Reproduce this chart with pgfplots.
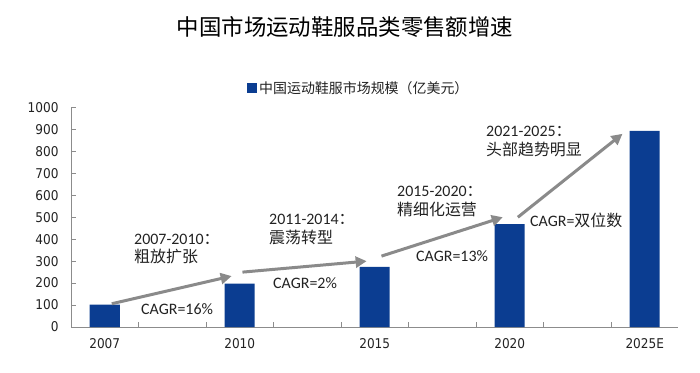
\documentclass[border=0pt]{standalone}
\usepackage{pgfplots}
\pgfplotsset{compat=1.18}
\usetikzlibrary{arrows.meta}
\usepackage{fontspec}
\setmainfont{Carlito}
\newfontfamily\cjk{Noto Sans CJK SC}
\newfontfamily\tickfont{DejaVu Sans Condensed}
\definecolor{barblue}{HTML}{0B3D91}
\definecolor{arrowgray}{HTML}{8A8A8A}
\definecolor{axgray}{HTML}{8C8C8C}
\definecolor{txt}{HTML}{222222}
\begin{document}
\begin{tikzpicture}
\useasboundingbox (0,0) rectangle (700bp,373bp);
\begin{axis}[
  at={(71bp,46bp)}, anchor=south west,
  scale only axis, width=607.5bp, height=219.5bp,
  xmin=-0.5, xmax=8.5, ymin=0, ymax=1000,
  axis lines=left,
  axis line style={-, axgray, line width=0.8bp},
  xtick={0,2,4,6,8},
  xticklabels={2007,2010,2015,2020,2025E},
  minor xtick={0.5,1.5,...,7.5},
  ytick={0,100,...,1000},
  tick align=inside,
  major tick length=5bp, minor tick length=5bp,
  tick style={axgray, line width=0.8bp},
  major x tick style={draw=none},
  ticklabel style={font=\tickfont\fontsize{13.5}{15}\selectfont, text=txt},
  /pgf/number format/assume math mode=true,
  /pgf/number format/1000 sep={},
  yticklabel shift=9bp,
  xticklabel shift=8bp,
  legend style={draw=none, fill=none, at={(0.2897,1.087)}, anchor=west,
    inner sep=0pt, font=\cjk\fontsize{14}{16}\selectfont, text=txt},
  legend image code/.code={\fill[barblue] (0bp,-5bp) rectangle (10bp,5bp);},
  clip=false,
]
\addplot[ybar, bar width=30bp, fill=barblue, draw=none]
  coordinates {(0,102) (2,198) (4,274) (6,469) (8,893)};
\addlegendentry{中国运动鞋服市场规模（亿美元）}
\addplot[arrowgray, line width=3bp, -{Triangle[length=11bp,width=11bp]}, forget plot]
  coordinates {(0.104,106) (1.88,232)};
\addplot[arrowgray, line width=3bp, -{Triangle[length=11bp,width=11bp]}, forget plot]
  coordinates {(2.04,250) (3.88,300)};
\addplot[arrowgray, line width=3bp, -{Triangle[length=11bp,width=11bp]}, forget plot]
  coordinates {(4.10,323) (5.896,500)};
\addplot[arrowgray, line width=3bp, -{Triangle[length=11bp,width=11bp]}, forget plot]
  coordinates {(6.12,500) (7.67,880)};
\end{axis}
% title
\node[font=\cjk\fontsize{22.5}{26}\selectfont, text=black] at (345bp,346bp) {中国市场运动鞋服品类零售额增速};
% annotations
\begin{scope}[every node/.style={anchor=base west, inner sep=0pt, text=txt, font=\fontsize{16}{18}\selectfont}]
\node at (134bp,128bp) {2007-2010{\cjk ：}};
\node at (134bp,110bp) {\cjk 粗放扩张};
\node at (141bp,58bp) {CAGR=16\%};
\node at (269bp,148bp) {2011-2014{\cjk ：}};
\node at (269bp,129bp) {\cjk 震荡转型};
\node at (273bp,84bp) {CAGR=2\%};
\node at (397bp,176bp) {2015-2020{\cjk ：}};
\node at (397bp,157bp) {\cjk 精细化运营};
\node at (416bp,111bp) {CAGR=13\%};
\node at (530bp,146bp) {CAGR={\cjk 双位数}};
\node at (486bp,236bp) {2021-2025{\cjk ：}};
\node at (486bp,217bp) {\cjk 头部趋势明显};
\end{scope}
\end{tikzpicture}
\end{document}
